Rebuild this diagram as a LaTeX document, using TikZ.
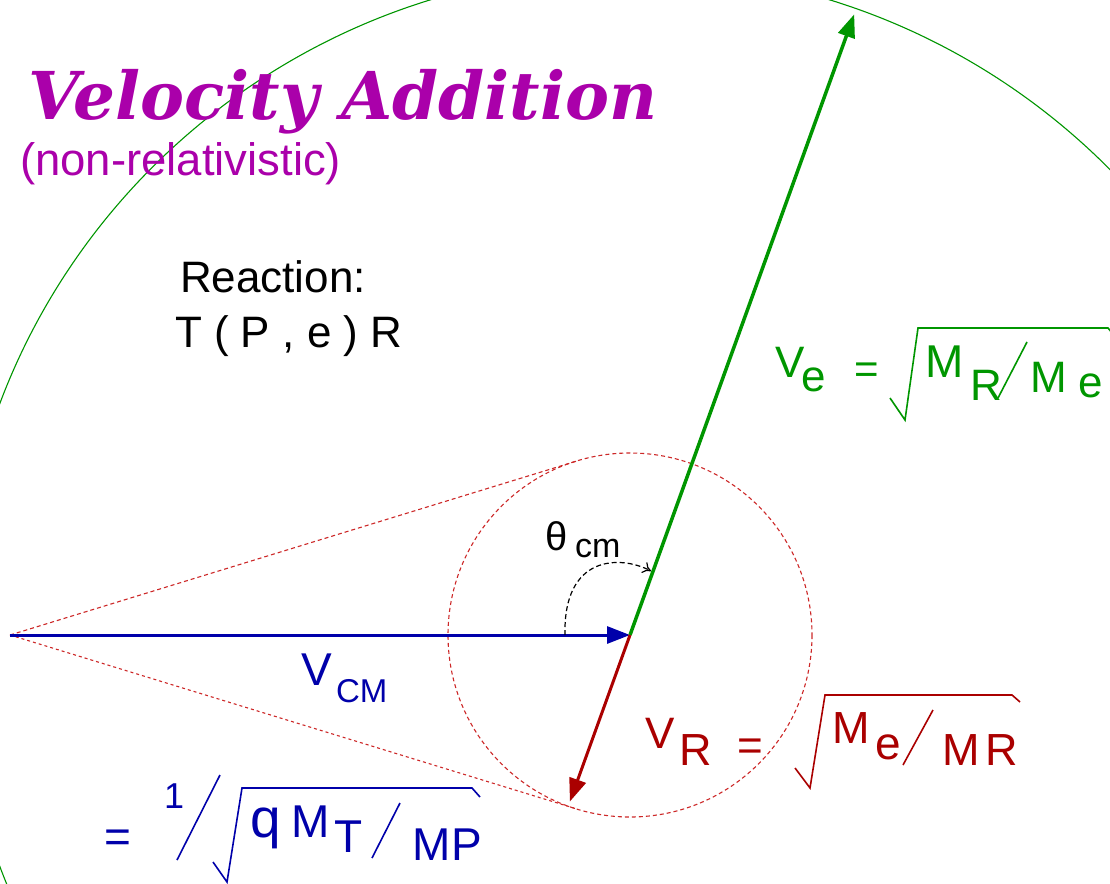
\documentclass[tikz,border=0pt]{standalone}
\usepackage{fontspec}
\setmainfont{Liberation Sans}
\newfontfamily\titlefont{DejaVu Serif}
\usetikzlibrary{arrows.meta}
\definecolor{mag}{RGB}{170,0,170}
\definecolor{vblue}{RGB}{0,0,170}
\definecolor{vgreen}{RGB}{0,150,0}
\definecolor{vred}{RGB}{170,0,0}
\definecolor{dred}{RGB}{205,40,40}
\newcommand\fsz[1]{\fontsize{#1}{#1}\selectfont}
\begin{document}
\begin{tikzpicture}[x=1pt,y=-1pt,
  txt/.style={inner sep=0pt,outer sep=0pt,anchor=base west},
  vecarrow/.style={line width=3pt,-{Triangle[length=23pt,width=17pt]}},
  dashred/.style={dred,line width=1.1pt,dash pattern=on 4pt off 3pt},
  rootline/.style={line width=1.6pt,line join=miter},
]
\path[use as bounding box] (0,0) rectangle (1110,883);
\fill[white] (0,0) rectangle (1110,883);
\begin{scope}
\clip (0,0) rectangle (1110,883);
% key points
\coordinate (O) at (10,635);
\coordinate (C) at (630,635);
\coordinate (Etip) at (854.2,14.3);
\coordinate (Rtip) at (569.9,801.5);
\coordinate (T1) at (576.6,461.1);
\coordinate (T2) at (576.6,808.9);
% big green circle
\draw[vgreen,line width=1.1pt] (C) ellipse[x radius=672,y radius=665];
% small dashed circle
\draw[dashred] (C) circle[radius=182];
% tangent lines
\draw[dashred] (O) -- (T1);
\draw[dashred,dash pattern=on 3pt off 3pt] (O) -- (T2);
% vectors
\draw[vecarrow,vblue] (O) -- (C);
\draw[vecarrow,vgreen,line width=3.5pt] (C) -- (Etip);
\draw[vecarrow,vred] (C) -- (Rtip);
% theta arc
\coordinate (A0) at (565,635);
\coordinate (A1) at (651,571);
\draw[black,line width=1.2pt,dash pattern=on 5pt off 3pt,-{To[length=8pt,width=12pt]}]
  (A0) .. controls (563,555) and (620,555) .. (A1);
\end{scope}
% title
\node[txt,mag] (title) at (28,119) {\titlefont\bfseries\itshape\fsz{66}Velocity Addition};
\node[txt,mag] (sub) at (20,175) {\fsz{45.5}(non-relativistic)};
\node[txt] (reac) at (180,292) {\fsz{44}Reaction:};
\node[txt] (tpe) at (175,347) {\fsz{44}T ( P , e ) R};
% theta label
\node[txt] (th) at (545,550) {\fsz{40}θ};
\node[txt] (thcm) at (575,557) {\fsz{34}cm};
% V_CM
\node[txt,vblue] (vcmV) at (301,685) {\fsz{46}V};
\node[txt,vblue] (vcmS) at (336,702) {\fsz{33}CM};
% bottom formula
\node[txt,vblue] (beq) at (104,852) {\fsz{46}=};
\node[txt,vblue] (bone) at (164,808) {\fsz{36}1};
\node[txt,vblue] (bq) at (250,837) {\fsz{55}q};
\node[txt,vblue] (bM1) at (291,837) {\fsz{46}M};
\node[txt,vblue] (bT) at (334,852) {\fsz{46}T};
\node[txt,vblue] (bM2) at (412,860) {\fsz{46}M};
\node[txt,vblue] (bP) at (451,860) {\fsz{46}P};
\coordinate (bs1) at (177,860);
\coordinate (bs2) at (220,775);
\draw[vblue,line width=1.6pt] (bs1) -- (bs2);
\coordinate (br1) at (213,862);
\coordinate (br2) at (227,882);
\coordinate (br3) at (242,788);
\coordinate (br4) at (472,788);
\coordinate (br5) at (480,797);
\draw[vblue,rootline] (br1) -- (br2) -- (br3) -- (br4) -- (br5);
\coordinate (bd1) at (372,858);
\coordinate (bd2) at (400,803);
\draw[vblue,line width=1.6pt] (bd1) -- (bd2);
% V_R formula
\node[txt,vred] (rV) at (645,748) {\fsz{44}V};
\node[txt,vred] (rR) at (679,765) {\fsz{45}R};
\node[txt,vred] (req) at (737,760) {\fsz{44}=};
\node[txt,vred] (rM1) at (832,743) {\fsz{45}M};
\node[txt,vred] (re) at (875,759) {\fsz{46}e};
\node[txt,vred] (rM2) at (942,765) {\fsz{45}M};
\node[txt,vred] (rR2) at (985,765) {\fsz{45}R};
\coordinate (rr1) at (795,768);
\coordinate (rr2) at (810,788);
\coordinate (rr3) at (825,695);
\coordinate (rr4) at (1012,695);
\coordinate (rr5) at (1020,702);
\draw[vred,rootline] (rr1) -- (rr2) -- (rr3) -- (rr4) -- (rr5);
\coordinate (rd1) at (903,765);
\coordinate (rd2) at (933,710);
\draw[vred,line width=1.6pt] (rd1) -- (rd2);
% V_e formula
\node[txt,vgreen] (eV) at (775,377) {\fsz{44}V};
\node[txt,vgreen] (ee) at (801,391) {\fsz{44}e};
\node[txt,vgreen] (eeq) at (854,383) {\fsz{42}=};
\node[txt,vgreen] (eM1) at (925,377) {\fsz{46}M};
\node[txt,vgreen] (eR) at (970,400) {\fsz{44}R};
\node[txt,vgreen] (eM2) at (1030,392) {\fsz{44}M};
\node[txt,vgreen] (ee2) at (1078,397) {\fsz{44}e};
\coordinate (er1) at (890,398);
\coordinate (er2) at (905,420);
\coordinate (er3) at (918,328);
\coordinate (er4) at (1108,328);
\coordinate (er5) at (1113,334);
\draw[vgreen,rootline] (er1) -- (er2) -- (er3) -- (er4) -- (er5);
\coordinate (ed1) at (998,398);
\coordinate (ed2) at (1027,342);
\draw[vgreen,line width=1.6pt] (ed1) -- (ed2);
\end{tikzpicture}
\end{document}
